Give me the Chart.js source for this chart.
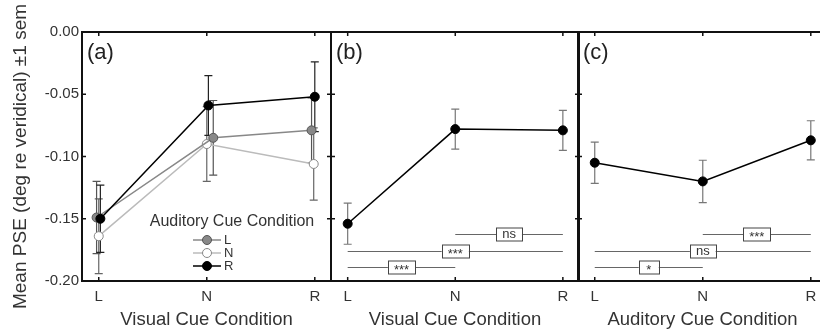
<!DOCTYPE html>
<html>
<head>
<meta charset="utf-8">
<script src="https://cdn.jsdelivr.net/npm/chart.js@4.4.0/dist/chart.umd.min.js"></script>
<style>
  html, body { margin: 0; padding: 0; background: #fff; overflow: hidden; width: 820px; height: 335px; }
  canvas { position: absolute; top: 0; }
</style>
</head>
<body>
<canvas id="panelA" width="333" height="335" style="left:0px"></canvas>
<canvas id="panelB" width="252" height="335" style="left:329px"></canvas>
<canvas id="panelC" width="253" height="335" style="left:576px"></canvas>
<script>
const categories = ['L', 'N', 'R'];
const yTicks = [0, -0.05, -0.10, -0.15, -0.20];

// (a) PSE by visual cue, one line per auditory cue condition
const aL = [-0.149, -0.085, -0.079];
const aLErr = [0.029, 0.030, 0.026];
const aN = [-0.164, -0.090, -0.106];
const aNErr = [0.030, 0.030, 0.029];
const aR = [-0.150, -0.059, -0.052];
const aRErr = [0.027, 0.024, 0.028];
// small horizontal dodge the original figure uses so the bars don't sit on top of each other
const aLDodge = [-0.02, 0.06, -0.03];
const aNDodge = [0, 0, -0.01];
const aRDodge = [0.015, 0.015, 0];

// (b) collapsed over auditory cue
const bMean = [-0.154, -0.078, -0.079];
const bErr = [0.0165, 0.016, 0.016];
const bSigFrom = [1, 0, 0];
const bSigTo = [2, 2, 1];
const bSigLevel = [-0.162, -0.176, -0.189];
const bSigLabel = ['ns', '***', '***'];

// (c) collapsed over visual cue
const cMean = [-0.105, -0.120, -0.087];
const cErr = [0.0166, 0.017, 0.0157];
const cSigFrom = [1, 0, 0];
const cSigTo = [2, 2, 1];
const cSigLevel = [-0.162, -0.176, -0.189];
const cSigLabel = ['***', 'ns', '*'];

const FONT = '"Liberation Sans", Arial, Helvetica, sans-serif';
Chart.defaults.font.family = FONT;
Chart.defaults.color = '#333';

const pts = (vals, dodge) => vals.map((v, i) => ({ x: i + (dodge ? dodge[i] : 0), y: v }));

// vertical error bars (+/- 1 sem), drawn under the lines and markers
const errorBars = {
  id: 'errorBars',
  beforeDatasetsDraw(chart) {
    const { ctx, scales: { x, y } } = chart;
    const sets = chart.data.datasets.slice().sort((p, q) => (q.order || 0) - (p.order || 0));
    sets.forEach(ds => {
      if (!ds.errors) return;
      ctx.save();
      ctx.strokeStyle = ds.errorColor;
      ctx.lineWidth = 1.2;
      ds.data.forEach((p, i) => {
        const px = x.getPixelForValue(p.x);
        const top = y.getPixelForValue(p.y + ds.errors[i]);
        const bot = y.getPixelForValue(p.y - ds.errors[i]);
        ctx.beginPath();
        ctx.moveTo(px, top); ctx.lineTo(px, bot);
        ctx.moveTo(px - 4, top); ctx.lineTo(px + 4, top);
        ctx.moveTo(px - 4, bot); ctx.lineTo(px + 4, bot);
        ctx.stroke();
      });
      ctx.restore();
    });
  }
};

// significance brackets with boxed labels
const sigBars = {
  id: 'sigBars',
  afterDatasetsDraw(chart, args, opts) {
    if (!opts.level) return;
    const { ctx, scales: { x, y } } = chart;
    ctx.save();
    opts.level.forEach((lv, i) => {
      const x1 = x.getPixelForValue(opts.from[i]);
      const x2 = x.getPixelForValue(opts.to[i]);
      const yy = Math.round(y.getPixelForValue(lv)) + 0.5;
      ctx.strokeStyle = '#666';
      ctx.lineWidth = 1.2;
      ctx.beginPath();
      ctx.moveTo(x1, yy); ctx.lineTo(x2, yy);
      ctx.stroke();
      const label = opts.label[i];
      ctx.font = '13px ' + FONT;
      const w = Math.max(20, ctx.measureText(label).width + 12);
      const h = 13;
      const cx = (x1 + x2) / 2;
      ctx.fillStyle = '#fff';
      ctx.fillRect(cx - w / 2, yy - h / 2, w, h);
      ctx.strokeStyle = '#444';
      ctx.lineWidth = 1;
      ctx.strokeRect(Math.round(cx - w / 2) + 0.5, yy - h / 2, Math.round(w), h);
      ctx.fillStyle = '#333';
      ctx.textAlign = 'center';
      ctx.textBaseline = 'middle';
      ctx.fillText(label, cx, yy + (label.includes('*') ? 3 : 0));
    });
    ctx.restore();
  }
};

// box frame with inward ticks on all sides, plus the (a)/(b)/(c) tag
const frame = {
  id: 'frame',
  afterDraw(chart, args, opts) {
    const { ctx, chartArea: ca, scales: { x, y } } = chart;
    ctx.save();
    ctx.strokeStyle = '#111';
    ctx.lineWidth = 1.5;
    ctx.beginPath();
    categories.forEach((c, i) => {
      const px = x.getPixelForValue(i);
      ctx.moveTo(px, ca.top); ctx.lineTo(px, ca.top + 4);
      ctx.moveTo(px, ca.bottom); ctx.lineTo(px, ca.bottom - 4);
    });
    yTicks.forEach(v => {
      const py = y.getPixelForValue(v);
      ctx.moveTo(ca.left, py); ctx.lineTo(ca.left + 4, py);
      ctx.moveTo(ca.right, py); ctx.lineTo(ca.right - 4, py);
    });
    ctx.stroke();
    ctx.lineWidth = 2;
    ctx.strokeRect(ca.left, ca.top, ca.right - ca.left, ca.bottom - ca.top);
    if (opts.tag) {
      ctx.font = '22px ' + FONT;
      ctx.fillStyle = '#222';
      ctx.textAlign = 'left';
      ctx.textBaseline = 'middle';
      ctx.fillText(opts.tag, ca.left + 5, ca.top + 21);
    }
    ctx.restore();
  }
};

// legend inside panel (a)
const cueLegend = {
  id: 'cueLegend',
  afterDatasetsDraw(chart, args, opts) {
    if (!opts.title) return;
    const { ctx, chartArea: ca } = chart;
    ctx.save();
    ctx.font = '16px ' + FONT;
    ctx.fillStyle = '#333';
    ctx.textAlign = 'center';
    ctx.textBaseline = 'middle';
    ctx.fillText(opts.title, ca.left + 150, ca.top + 190);
    chart.data.datasets.forEach((ds, i) => {
      const yy = ca.top + 208 + i * 13;
      const x0 = ca.left + 111, x1 = ca.left + 139, xm = ca.left + 125;
      ctx.strokeStyle = ds.borderColor;
      ctx.lineWidth = ds.borderWidth;
      ctx.beginPath();
      ctx.moveTo(x0, yy); ctx.lineTo(x1, yy);
      ctx.stroke();
      ctx.beginPath();
      ctx.arc(xm, yy, 4.5, 0, Math.PI * 2);
      ctx.fillStyle = ds.pointBackgroundColor;
      ctx.fill();
      ctx.strokeStyle = ds.pointBorderColor;
      ctx.lineWidth = 1;
      ctx.stroke();
      ctx.font = '13px ' + FONT;
      ctx.fillStyle = '#333';
      ctx.textAlign = 'left';
      ctx.fillText(ds.label, ca.left + 142, yy);
    });
    ctx.restore();
  }
};

Chart.register(errorBars, sigBars, frame, cueLegend);

function series(label, data, errors, line, fill, edge, errColor, order) {
  return {
    label, data, errors, order,
    errorColor: errColor,
    borderColor: line,
    borderWidth: 1.5,
    pointBackgroundColor: fill,
    pointBorderColor: edge,
    pointBorderWidth: 1,
    pointRadius: 4.5,
    tension: 0,
    clip: false
  };
}

function makePanel(id, datasets, o) {
  const showY = !!o.yTitle;
  return new Chart(document.getElementById(id), {
    type: 'line',
    data: { datasets },
    options: {
      responsive: false,
      animation: false,
      layout: { autoPadding: false, padding: { top: 32, left: showY ? 0 : 2, right: 2, bottom: 0 } },
      scales: {
        x: {
          type: 'linear', min: -0.155, max: 2.15,
          afterBuildTicks: s => { s.ticks = categories.map((c, i) => ({ value: i })); },
          afterFit: s => { s.height = 54; s.paddingLeft = 0; s.paddingRight = 0; },
          grid: { display: false, drawTicks: false },
          border: { display: false },
          ticks: { callback: v => categories[v], font: { size: 15 }, color: '#333', padding: 7, maxRotation: 0, autoSkip: false },
          title: { display: true, text: o.xTitle, font: { size: 18.5 }, color: '#333', padding: { top: 0, bottom: 4 } }
        },
        y: {
          display: showY,
          min: -0.2, max: 0,
          afterBuildTicks: s => { s.ticks = yTicks.map(v => ({ value: v })); },
          afterFit: s => { if (showY) s.width = 82; },
          grid: { display: false, drawTicks: false },
          border: { display: false },
          ticks: { callback: v => v.toFixed(2), font: { size: 15 }, color: '#333', padding: 3 },
          title: { display: showY, text: o.yTitle || '', font: { size: 19 }, color: '#333', padding: { top: 9, bottom: 0 } }
        }
      },
      plugins: {
        legend: { display: false },
        tooltip: { enabled: false },
        frame: { tag: o.tag },
        sigBars: o.sig || {},
        cueLegend: o.legend || {}
      }
    }
  });
}

makePanel('panelA', [
  series('L', pts(aL, aLDodge), aLErr, '#888', '#888', '#555', '#555', 1),
  series('N', pts(aN, aNDodge), aNErr, '#bbb', '#fff', '#888', '#666', 2),
  series('R', pts(aR, aRDodge), aRErr, '#000', '#000', '#000', '#222', 0)
], {
  tag: '(a)',
  xTitle: 'Visual Cue Condition',
  yTitle: 'Mean PSE (deg re veridical) \u00b11 sem',
  legend: { title: 'Auditory Cue Condition' }
});

makePanel('panelB', [
  series('all', pts(bMean), bErr, '#000', '#000', '#000', '#777', 0)
], {
  tag: '(b)',
  xTitle: 'Visual Cue Condition',
  sig: { from: bSigFrom, to: bSigTo, level: bSigLevel, label: bSigLabel }
});

makePanel('panelC', [
  series('all', pts(cMean), cErr, '#000', '#000', '#000', '#777', 0)
], {
  tag: '(c)',
  xTitle: 'Auditory Cue Condition',
  sig: { from: cSigFrom, to: cSigTo, level: cSigLevel, label: cSigLabel }
});
</script>
</body>
</html>
